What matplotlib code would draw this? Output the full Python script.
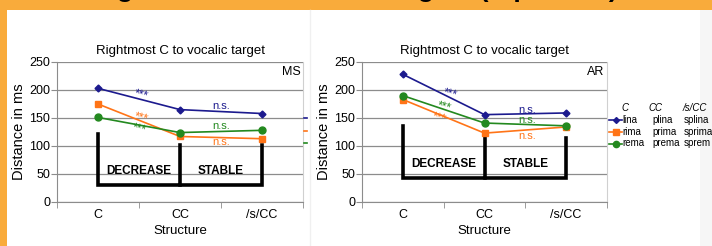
import matplotlib
matplotlib.use("Agg")
import matplotlib.pyplot as plt
from matplotlib.patches import Rectangle
from matplotlib.lines import Line2D

plt.rcParams['font.family'] = ['Liberation Sans', 'DejaVu Sans']

# --- data ---
structures = ["C", "CC", "/s/CC"]
series_names = ["lina", "rima", "rema"]
cc_words = ["plina", "prima", "prema"]
scc_words = ["splina", "sprima", "sprem"]

ms_lina = [203, 165, 158]
ms_rima = [175, 117, 113]
ms_rema = [151, 124, 128]

ar_lina = [228, 156, 159]
ar_rima = [183, 123, 134]
ar_rema = [190, 141, 136]

# significance labels: (series, x, y, text)
ms_sig = [("lina", 0.53, 191, "***"), ("rima", 0.53, 150, "***"), ("rema", 0.50, 131, "***"),
          ("lina", 1.5, 171, "n.s."), ("rema", 1.5, 136, "n.s."), ("rima", 1.5, 107, "n.s.")]
ar_sig = [("lina", 0.58, 193, "***"), ("rema", 0.50, 170, "***"), ("rima", 0.44, 150, "***"),
          ("lina", 1.52, 164, "n.s."), ("rema", 1.52, 146, "n.s."), ("rima", 1.52, 118, "n.s.")]

# bracket heights: (C top, CC top, /s/CC top, bottom, label y)
ms_bracket = (122, 101, 101, 30, 56)
ar_bracket = (135, 115, 115, 43, 67)

colors = {"lina": "#1c1a8e", "rima": "#ff7417", "rema": "#23891f"}
markers = {"lina": "D", "rima": "s", "rema": "o"}
msizes = {"lina": 3.5, "rima": 5, "rema": 5}
ORANGE = "#f9ab3b"

W, H = 712, 246
fig = plt.figure(figsize=(W / 100, H / 100), dpi=100, facecolor=ORANGE)

# white slide area
fig.patches.append(Rectangle((7 / W, 0), 1, (H - 10) / H, transform=fig.transFigure,
                             facecolor="white", edgecolor="none", zorder=-2))
fig.patches.append(Rectangle((700 / W, 0), 1, (H - 10) / H, transform=fig.transFigure,
                             facecolor="#f6f6f6", edgecolor="none", zorder=-2))
fig.add_artist(Line2D([310 / W, 310 / W], [0, (H - 10) / H], transform=fig.transFigure,
                      color="#f0f0f0", lw=1, zorder=-1))

# clipped slide title (only the bottom shows)
fig.text(618 / W, 1 + 2.5 / H, "Results: Rightmost C to vocalic targets (repetition)",
         ha="right", va="baseline", fontsize=19, fontweight="bold", color="black")


def draw_panel(left_px, right_px, data, sig, bracket, tag):
    ax = fig.add_axes([left_px / W, (H - 202) / H, (right_px - left_px) / W, 140 / H])
    ax.set_facecolor("none")
    x = range(len(structures))
    for name, vals in zip(series_names, data):
        ax.plot(x, vals, color=colors[name], marker=markers[name], markersize=msizes[name],
                lw=1.2, zorder=4)
    for name, sx, sy, txt in sig:
        rot = -14 if txt == "***" else 0
        ax.text(sx, sy, txt, color=colors[name], fontsize=8.5 if txt == "***" else 8,
                ha="center", va="center", rotation=rot, zorder=5)
    c_top, cc_top, scc_top, bottom, lab_y = bracket
    ax.plot([0, 0, 1, 1], [c_top, bottom, bottom, cc_top], color="black", lw=2.6,
            solid_joinstyle="miter", zorder=3)
    ax.plot([1, 2, 2], [bottom, bottom, scc_top], color="black", lw=2.6,
            solid_joinstyle="miter", zorder=3)
    ax.text(0.5, lab_y, "DECREASE", fontsize=8.5, fontweight="bold", ha="center", va="center")
    ax.text(1.5, lab_y, "STABLE", fontsize=8.5, fontweight="bold", ha="center", va="center")

    ax.set_xlim(-0.5, 2.5)
    ax.set_ylim(0, 250)
    ax.set_yticks([0, 50, 100, 150, 200, 250])
    ax.yaxis.grid(True, color="#8c8c8c", lw=0.9)
    ax.set_axisbelow(True)
    ax.set_xticks(range(len(structures)))
    ax.set_xticklabels(structures)
    ax.set_xticks([-0.5, 0.5, 1.5, 2.5], minor=True)
    ax.tick_params(axis="x", which="major", length=0, labelsize=9, pad=5)
    ax.tick_params(axis="x", which="minor", length=4, color="#8c8c8c", direction="out")
    ax.tick_params(axis="y", length=4, color="#8c8c8c", labelsize=9, pad=1)
    for s in ["left", "bottom"]:
        ax.spines[s].set_color("#8c8c8c")
    ax.spines["top"].set_visible(False)
    ax.spines["right"].set_color("#d0d0d0")
    ax.set_xlabel("Structure", fontsize=9.5, labelpad=3)
    ax.set_ylabel("Distance in ms", fontsize=10.5, labelpad=2)
    ax.set_title("Rightmost C to vocalic target", fontsize=9.5, pad=6)
    ax.text(0.99, 0.97, tag, transform=ax.transAxes, ha="right", va="top", fontsize=9)
    return ax


draw_panel(57, 303, [ms_lina, ms_rima, ms_rema], ms_sig, ms_bracket, "MS")
draw_panel(362, 607, [ar_lina, ar_rima, ar_rema], ar_sig, ar_bracket, "AR")

# cut-off legend markers of left panel
for i, name in enumerate(series_names):
    y = 1 - (118 + 12.5 * i) / H
    fig.add_artist(Line2D([304 / W, 307 / W], [y, y], transform=fig.transFigure,
                          color=colors[name], lw=1.2))

# legend table of right panel
fig.text(625 / W, 1 - 108 / H, structures[0], style="italic", fontsize=7, ha="center", va="center")
fig.text(655 / W, 1 - 108 / H, structures[1], style="italic", fontsize=7, ha="center", va="center")
fig.text(695 / W, 1 - 108 / H, structures[2], style="italic", fontsize=7, ha="center", va="center")
for i, name in enumerate(series_names):
    y = 1 - (120.5 + 11.5 * i) / H
    fig.add_artist(Line2D([609 / W, 622 / W], [y, y], transform=fig.transFigure,
                          color=colors[name], lw=1.2))
    fig.add_artist(Line2D([615.5 / W], [y], transform=fig.transFigure, color=colors[name],
                          marker=markers[name], markersize=msizes[name] - 0.5, lw=0))
    fig.text(622 / W, y, name, fontsize=7, ha="left", va="center")
    fig.text(652 / W, y, cc_words[i], fontsize=7, ha="left", va="center")
    fig.text(684 / W, y, scc_words[i], fontsize=7, ha="left", va="center")

fig.savefig("out.png", dpi=100, facecolor=ORANGE)
